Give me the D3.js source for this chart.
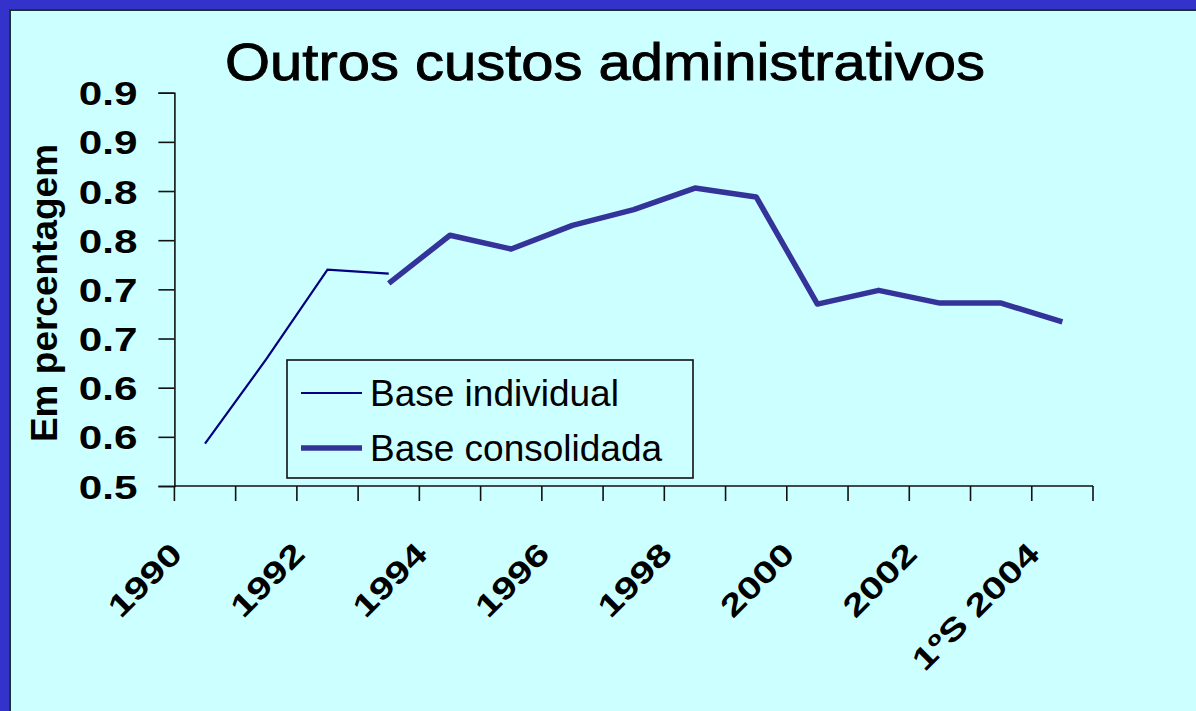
<!DOCTYPE html>
<html>
<head>
<meta charset="utf-8">
<script src="https://cdn.jsdelivr.net/npm/d3@7"></script>
<style>
  html, body { margin: 0; padding: 0; background: #ccffff; }
  svg { display: block; }
  text { font-family: "Liberation Sans", Arial, sans-serif; }
</style>
</head>
<body>
<script>
// Categories (years, last one is the first half of 2004)
const categories = ["1990","1991","1992","1993","1994","1995","1996","1997",
                    "1998","1999","2000","2001","2002","2003","1ºS 2004"];

// Other administrative costs, in percent
const individualValues = [0.543, 0.629, 0.720, 0.716, null, null, null, null,
                          null, null, null, null, null, null, null];
const consolidatedValues = [null, null, null, 0.706, 0.755, 0.741, 0.765, 0.781,
                            0.803, 0.794, 0.685, 0.699, 0.686, 0.686, 0.667];

// Axis ticks
const yTickValues = [0.5, 0.55, 0.6, 0.65, 0.7, 0.75, 0.8, 0.85, 0.9];
const yTickLabels = ["0.5","0.6","0.6","0.7","0.7","0.8","0.8","0.9","0.9"];
const xLabelCategories = ["1990","1992","1994","1996","1998","2000","2002","1ºS 2004"];

const seriesNames = ["Base individual", "Base consolidada"];

const W = 1196, H = 711;
const svg = d3.select("body").append("svg").attr("width", W).attr("height", H);

// Slide frame: blue band with the cyan panel inset
svg.append("rect").attr("x", 0).attr("y", 0).attr("width", W).attr("height", H).attr("fill", "#3333cc");
svg.append("rect").attr("x", 10).attr("y", 10).attr("width", W + 20).attr("height", H + 20)
   .attr("fill", "#ccffff").attr("stroke", "#1c3333").attr("stroke-width", 2);

const plot = { left: 174.4, right: 1093, top: 92.7, bottom: 486 };

const x = d3.scaleBand().domain(categories).range([plot.left, plot.right]).padding(0);
const y = d3.scaleLinear().domain([0.5, 0.9]).range([plot.bottom, plot.top]);
const cx = d => x(d) + x.bandwidth() / 2;

// Title
svg.append("text")
   .attr("x", 225).attr("y", 80)
   .attr("font-size", 52)
   .attr("textLength", 760).attr("lengthAdjust", "spacingAndGlyphs")
   .attr("fill", "#000").attr("stroke", "#000").attr("stroke-width", 0.9)
   .text("Outros custos administrativos");

// Y axis title
svg.append("text")
   .attr("transform", "translate(57,293) rotate(-90)")
   .attr("text-anchor", "middle")
   .attr("font-size", 37).attr("font-weight", "bold")
   .attr("fill", "#000")
   .text("Em percentagem");

// Y axis
const yAxis = d3.axisLeft(y).tickValues(yTickValues).tickSize(16)
   .tickFormat((d, i) => yTickLabels[i]);
const gy = svg.append("g").attr("transform", `translate(${plot.left},0)`).call(yAxis);
gy.select(".domain").attr("stroke", "#111").attr("stroke-width", 1.6);
gy.selectAll(".tick line").attr("stroke", "#111").attr("stroke-width", 1.6);
gy.selectAll(".tick text")
   .attr("x", 0).attr("dy", null).attr("y", 0)
   .attr("font-size", 33).attr("font-weight", "bold").attr("fill", "#000")
   .attr("font-family", "\"Liberation Sans\", Arial, sans-serif")
   .attr("text-anchor", "end")
   .attr("transform", "translate(-37,12) scale(1.28,1)");

// X axis: ticks on category boundaries
const boundaries = categories.map(c => x(c)).concat([plot.right]);
const gx = svg.append("g");
gx.append("line")
   .attr("x1", plot.left).attr("x2", plot.right)
   .attr("y1", plot.bottom).attr("y2", plot.bottom)
   .attr("stroke", "#111").attr("stroke-width", 1.6);
gx.selectAll("line.tick").data(boundaries).join("line")
   .attr("class", "tick")
   .attr("x1", d => d).attr("x2", d => d)
   .attr("y1", plot.bottom).attr("y2", plot.bottom + 15)
   .attr("stroke", "#111").attr("stroke-width", 1.6);

gx.selectAll("text.xlab").data(xLabelCategories).join("text")
   .attr("class", "xlab")
   .attr("transform", d => `translate(${cx(d) - 21},556) rotate(-45) scale(1.3,1)`)
   .attr("text-anchor", "end")
   .attr("font-size", 31).attr("font-weight", "bold").attr("fill", "#000")
   .text(d => d);

// Series lines
const line = d3.line()
   .defined(d => d.v !== null)
   .x(d => cx(d.c))
   .y(d => y(d.v));

const indData = categories.map((c, i) => ({ c, v: individualValues[i] }));
const conData = categories.map((c, i) => ({ c, v: consolidatedValues[i] }));

svg.append("path").datum(indData)
   .attr("d", line).attr("fill", "none")
   .attr("stroke", "#000080").attr("stroke-width", 2.2)
   .attr("stroke-linejoin", "miter");

svg.append("path").datum(conData)
   .attr("d", line).attr("fill", "none")
   .attr("stroke", "#333399").attr("stroke-width", 5.5)
   .attr("stroke-linejoin", "round");

// Legend
const legend = svg.append("g");
legend.append("rect")
   .attr("x", 287).attr("y", 360).attr("width", 406).attr("height", 118)
   .attr("fill", "#ccffff").attr("stroke", "#111").attr("stroke-width", 1.6);
const legendStyles = [
  { color: "#000080", width: 2.2, y: 393 },
  { color: "#333399", width: 5.5, y: 448 }
];
seriesNames.forEach((name, i) => {
  const s = legendStyles[i];
  legend.append("line")
     .attr("x1", 301).attr("x2", 362).attr("y1", s.y).attr("y2", s.y)
     .attr("stroke", s.color).attr("stroke-width", s.width);
  legend.append("text")
     .attr("x", 370).attr("y", s.y + 12.5)
     .attr("font-size", 37).attr("fill", "#000")
     .text(name);
});
</script>
</body>
</html>
